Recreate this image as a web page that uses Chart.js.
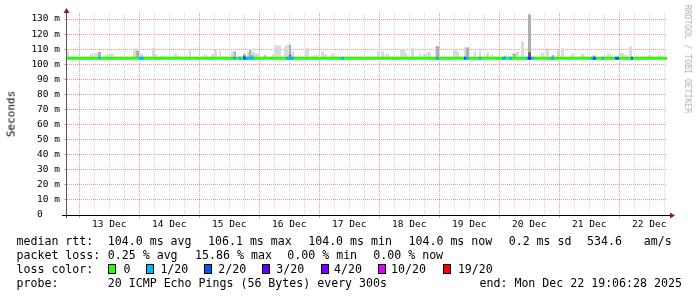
<!DOCTYPE html>
<html>
<head>
<meta charset="utf-8">
<script src="https://cdn.jsdelivr.net/npm/chart.js@4.4.1/dist/chart.umd.min.js"></script>
<style>
  body { margin: 0; background: #fff; }
  #wrap { position: relative; width: 697px; height: 297px; overflow: hidden; }
  #chart { position: absolute; left: 0; top: 0; }
  .t { position: absolute; font: 11.6px "DejaVu Sans Mono", monospace; line-height: 14px; white-space: pre; color: #000; }
  .box { position: absolute; width: 6px; height: 8px; border: 1px solid #000; }
  #ylabel { position: absolute; left: 10.5px; top: 114px; font: 11px "DejaVu Sans Mono", monospace; color: #000; white-space: pre; transform: translate(-50%, -50%) rotate(-90deg); }
  #mark { position: absolute; left: 687.5px; top: 59px; font: 8.2px "DejaVu Sans Mono", monospace; color: #b0b0b0; white-space: pre; transform: translate(-50%, -50%) rotate(90deg); }
</style>
</head>
<body>
<div id="wrap">
  <canvas id="chart" width="697" height="297"></canvas>
  <div id="ylabel">Seconds</div>
  <div id="mark">RRDTOOL / TOBI OETIKER</div>
  <div id="legend"></div>
</div>
<script>
// hours counted from the left edge of the graph (12 Dec 19:06)
const spanHours = 240;
const firstMidnight = 4.9;
const dayLabels = ["13 Dec", "14 Dec", "15 Dec", "16 Dec", "17 Dec", "18 Dec", "19 Dec", "20 Dec", "21 Dec", "22 Dec"];
const yTicks = [0, 5, 10, 15, 20, 25, 30, 35, 40, 45, 50, 55, 60, 65, 70, 75, 80, 85, 90, 95, 100, 105, 110, 115, 120, 125, 130];
const yMax = 134;

// median rtt in ms
const medianHours = [0, 240];
const medianValues = [104, 104];

// smoke: [from hour, to hour, top ms]
const smokeLight = [
  [0.0, 0.8, 109], [5.2, 7.2, 105], [9.2, 10.8, 107], [11.2, 12.8, 107.7], [14.4, 16.0, 106],
  [16.0, 18.8, 107], [26.4, 28.4, 110.5], [28.4, 30.4, 107], [34.0, 35.2, 111], [35.2, 36.0, 107],
  [37.2, 39.6, 105.5], [42.8, 44.0, 107], [44.0, 45.2, 105.5], [46.0, 46.8, 105], [48.8, 49.6, 110],
  [52.0, 53.2, 105], [54.8, 56.0, 106.5], [57.6, 58.8, 107], [58.8, 60.0, 109.5], [60.8, 61.6, 109],
  [65.6, 67.6, 108.5], [68.8, 69.6, 105.7], [70.4, 71.6, 107.5], [72.0, 72.8, 108], [72.8, 73.6, 110],
  [73.6, 74.8, 108.6], [74.8, 77.2, 107.3], [78.4, 79.6, 105.7], [79.6, 80.4, 104.8], [82.0, 82.8, 106.5],
  [82.8, 85.6, 112.5], [86.8, 87.6, 112], [87.6, 89.6, 112.7], [89.6, 90.8, 108.4], [90.8, 92.4, 105.3],
  [95.2, 96.8, 110.6], [98.4, 100.0, 106], [101.6, 102.8, 108.4], [102.8, 104.0, 106.3], [105.6, 106.8, 107],
  [106.8, 107.6, 105.3], [124.0, 125.2, 108.4], [125.6, 126.8, 108.4], [127.2, 128.8, 107], [130.0, 131.2, 105],
  [133.2, 135.2, 110], [135.2, 136.0, 107.5], [137.6, 138.8, 110.6], [140.8, 141.6, 107.3], [142.4, 144.0, 107],
  [144.0, 145.6, 108.3], [147.2, 148.8, 112], [154.4, 156.0, 110], [156.0, 156.8, 108.3], [158.8, 160.8, 111.3],
  [162.8, 163.6, 108.4], [164.8, 165.6, 109.6], [167.6, 168.8, 107.6], [169.6, 170.8, 106.3], [174.8, 176.0, 106],
  [178.0, 179.6, 107.5], [179.6, 180.8, 108.4], [181.6, 182.8, 115.2], [189.6, 190.8, 107.6], [191.6, 192.8, 110.6],
  [193.6, 194.8, 106], [196.0, 196.8, 110], [197.6, 198.8, 110.6], [201.6, 202.8, 107], [205.6, 206.8, 107],
  [210.0, 211.6, 106], [214.8, 216.0, 105], [216.0, 217.6, 107], [217.6, 218.4, 105], [221.2, 222.8, 107.6],
  [222.8, 224.0, 106], [224.8, 226.0, 112], [226.0, 227.2, 105], [232.4, 234.0, 106], [235.2, 236.0, 105],
  [236.4, 237.6, 106]
];
const smokeMid = [
  [12.4, 13.6, 108.3], [27.6, 28.8, 109], [66.8, 67.6, 108.4], [70.4, 71.6, 106], [72.8, 73.6, 109.4],
  [73.6, 74.8, 106], [78.8, 79.6, 106], [88.8, 89.6, 113], [147.6, 148.8, 112], [159.6, 160.8, 111],
  [178.4, 179.6, 107], [184.4, 185.6, 133], [194.0, 194.8, 106]
];
const smokeDark = [
  [70.4, 71.2, 105.8], [88.8, 89.6, 106.5], [184.4, 185.6, 108]
];

// packet loss on the median line: [from hour, to hour]
const loss1 = [
  [12.8, 13.6], [28.8, 30.8], [66.4, 67.6], [68.8, 69.6], [71.6, 74.8], [87.6, 90.8], [109.6, 110.8],
  [147.6, 148.8], [159.6, 160.8], [164.8, 165.6], [174.0, 175.6], [176.8, 178.0], [183.6, 184.4],
  [185.6, 186.8], [193.6, 194.8], [209.6, 211.6], [214.0, 214.8]
];
const loss2 = [[70.4, 71.6], [158.8, 159.6], [210.4, 211.6], [219.2, 220.8], [225.6, 226.4]];
const loss3 = [[184.4, 185.6]];

const lossLegend = ["0", "1/20", "2/20", "3/20", "4/20", "10/20", "19/20"];
const lossColors = ["#26ff00", "#00b8ff", "#0059ff", "#5e00ff", "#7e00ff", "#dd00ff", "#ff0000"];

const medianBase = medianValues[0];

function smokePoints(list) {
  const pts = [];
  list.forEach(([from, to, top]) => {
    pts.push({ x: from, y: medianBase }, { x: from, y: top }, { x: to, y: top }, { x: to, y: medianBase });
  });
  return pts;
}

function lossPoints(list) {
  const pts = [];
  list.forEach(([from, to]) => {
    pts.push({ x: from, y: medianBase }, { x: to, y: medianBase }, { x: to, y: null });
  });
  return pts;
}

function smokeSet(list, color) {
  return {
    data: smokePoints(list),
    borderWidth: 0,
    backgroundColor: color,
    fill: { value: medianBase },
    pointRadius: 0
  };
}

function lossSet(list, color) {
  return {
    data: lossPoints(list),
    borderColor: color,
    borderWidth: 3,
    borderCapStyle: "butt",
    spanGaps: false,
    fill: false,
    pointRadius: 0
  };
}

const xTicks = [];
for (let h = firstMidnight; h <= spanHours; h += 6) xTicks.push(h);

const majorGrid = "rgba(235, 0, 0, 0.42)";
const minorGrid = "rgba(140, 140, 140, 0.35)";

const axisArrows = {
  id: "axisArrows",
  afterDatasetsDraw(chart) {
    const { ctx, chartArea: a } = chart;
    ctx.save();
    ctx.lineWidth = 1;
    ctx.strokeStyle = "#555";
    ctx.beginPath();
    ctx.moveTo(a.left - 0.5, a.bottom + 3);
    ctx.lineTo(a.left - 0.5, a.top - 1);
    ctx.stroke();
    ctx.strokeStyle = "#000";
    ctx.beginPath();
    ctx.moveTo(a.left - 5, a.bottom + 0.5);
    ctx.lineTo(a.right + 3, a.bottom + 0.5);
    ctx.stroke();
    ctx.fillStyle = "#9a1a1a";
    ctx.beginPath();
    ctx.moveTo(a.left - 0.5, a.top - 5);
    ctx.lineTo(a.left - 3.5, a.top);
    ctx.lineTo(a.left + 2.5, a.top);
    ctx.closePath();
    ctx.fill();
    ctx.beginPath();
    ctx.moveTo(a.right + 8, a.bottom + 0.5);
    ctx.lineTo(a.right + 3, a.bottom - 2.5);
    ctx.lineTo(a.right + 3, a.bottom + 3.5);
    ctx.closePath();
    ctx.fill();
    ctx.restore();
  }
};

// Chart.js paints dataset 0 last, so the loss marks come first and the smoke last
new Chart(document.getElementById("chart"), {
  type: "line",
  data: {
    datasets: [
      lossSet(loss3, lossColors[3]),
      lossSet(loss2, lossColors[2]),
      lossSet(loss1, lossColors[1]),
      {
        data: medianHours.map((h, i) => ({ x: h, y: medianValues[i] })),
        borderColor: lossColors[0],
        borderWidth: 3,
        fill: false,
        pointRadius: 0
      },
      smokeSet(smokeDark, "#666666"),
      smokeSet(smokeMid, "#b0b0b0"),
      smokeSet(smokeLight, "#dadada")
    ]
  },
  options: {
    responsive: false,
    animation: false,
    devicePixelRatio: 1,
    layout: { padding: { top: 13, right: 30, left: 0, bottom: 0 } },
    plugins: { legend: { display: false }, tooltip: { enabled: false } },
    scales: {
      x: {
        type: "linear",
        min: 0,
        max: spanHours,
        afterBuildTicks: (scale) => { scale.ticks = xTicks.map((v) => ({ value: v })); },
        afterFit: (scale) => { scale.height = 82; },
        border: { display: false, dash: [1, 1] },
        grid: {
          color: (c) => (c.index % 4 === 0 ? majorGrid : minorGrid),
          tickColor: (c) => (c.index % 4 === 0 ? majorGrid : "rgba(0,0,0,0)"),
          tickLength: 3,
          lineWidth: 1
        },
        ticks: {
          autoSkip: false,
          maxRotation: 0,
          padding: 1,
          color: "#000",
          font: { family: "DejaVu Sans Mono", size: 9.5 },
          callback: (v, i) => (i % 4 === 2 ? dayLabels[(i - 2) / 4] : "")
        }
      },
      y: {
        min: 0,
        max: yMax,
        afterBuildTicks: (scale) => { scale.ticks = yTicks.map((v) => ({ value: v })); },
        afterFit: (scale) => { scale.width = 67; },
        border: { display: false, dash: [1, 1] },
        grid: {
          color: (c) => (c.tick && c.tick.value % 10 === 0 ? majorGrid : minorGrid),
          tickColor: (c) => (c.tick && c.tick.value % 10 === 0 ? majorGrid : "rgba(0,0,0,0)"),
          tickLength: 3
        },
        ticks: {
          padding: 4,
          color: "#000",
          font: { family: "DejaVu Sans Mono", size: 9.5 },
          callback: (v) => (v % 10 !== 0 ? "" : v === 0 ? "0   " : v + " m")
        }
      }
    }
  },
  plugins: [axisArrows]
});

// legend block under the graph
const legendRows = [
  { top: 234, parts: [[16.5, "median rtt:"], [107.8, "104.0 ms avg"], [208, "106.1 ms max"], [308.2, "104.0 ms min"], [408.5, "104.0 ms now"], [508.7, "0.2 ms sd"], [587, "534.6"], [643.7, "am/s"]] },
  { top: 248, parts: [[16.5, "packet loss:"], [107.8, "0.25 % avg"], [195.1, "15.86 % max"], [287.3, "0.00 % min"], [373.3, "0.00 % now"]] },
  { top: 262, parts: [[16.5, "loss color:"]] },
  { top: 276, parts: [[16.5, "probe:"], [107.8, "20 ICMP Echo Pings (56 Bytes) every 300s"], [479.5, "end: Mon Dec 22 19:06:28 2025"]] }
];
const lossBoxX = [108.2, 145.7, 203.6, 261.9, 320.7, 377.7, 443.2];
const lossTextX = [123.4, 160.4, 218.3, 276.2, 334.1, 391.1, 457.9];

const legend = document.getElementById("legend");
legendRows.forEach((row) => {
  row.parts.forEach(([x, text]) => {
    const d = document.createElement("div");
    d.className = "t";
    d.style.left = x + "px";
    d.style.top = row.top + "px";
    d.textContent = text;
    legend.appendChild(d);
  });
});
lossLegend.forEach((label, i) => {
  const b = document.createElement("div");
  b.className = "box";
  b.style.left = lossBoxX[i] + "px";
  b.style.top = "264px";
  b.style.background = lossColors[i];
  legend.appendChild(b);
  const d = document.createElement("div");
  d.className = "t";
  d.style.left = lossTextX[i] + "px";
  d.style.top = "262px";
  d.textContent = label;
  legend.appendChild(d);
});
</script>
</body>
</html>
